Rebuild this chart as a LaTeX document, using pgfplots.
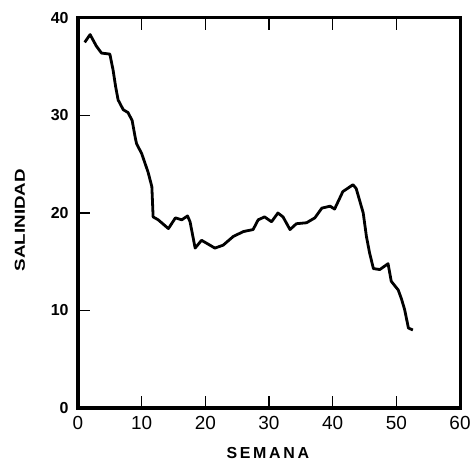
\documentclass[border=0pt]{standalone}
\usepackage{pgfplots}
\pgfplotsset{compat=1.18}
\usepackage{graphicx}
\usepackage{fontspec}
\setmainfont{Liberation Sans}
\begin{document}
\begin{tikzpicture}
\begin{axis}[
  name=ax,
  scale only axis, width=382bp, height=390bp,
  xmin=0, xmax=60, ymin=0, ymax=40,
  axis line style={line width=3bp},
  xtick={0,10,20,30,40,50,60},
  ytick={0,10,20,30,40},
  xtick pos=both, ytick pos=left,
  tick align=inside,
  major tick length=12bp,
  tick style={black, line width=1.2bp},
  /pgf/number format/assume math mode=true,
  x tick label style={font=\fontsize{19}{19}\selectfont, yshift=-5bp},
  y tick label style={font=\bfseries\fontsize{16}{16}\selectfont, xshift=-6bp},
  xlabel={\bfseries\fontsize{16}{16}\selectfont S\,E\,M\,A\,N\,A},
  ylabel={\scalebox{1.3}[1]{\bfseries\fontsize{14.5}{14.5}\selectfont SALINIDAD}},
  ylabel style={at={(axis description cs:-0.152,0.482)}, anchor=center},
  xlabel style={at={(axis description cs:0.497,0)}, anchor=center, yshift=-45bp},
  clip=false,
]
\addplot[black, line width=2.8bp, line join=round] coordinates {
(1.05,37.5) (1.9,38.3) (2.9,37.1) (3.7,36.4) (5.0,36.3) (5.5,34.7)
(5.9,33.0) (6.3,31.6) (7.1,30.6) (7.85,30.3) (8.5,29.5) (9.0,27.7)
(9.2,27.1) (10.0,26.1) (11.0,24.2) (11.6,22.7) (11.8,19.6) (12.6,19.3)
(14.2,18.4) (15.3,19.5) (16.3,19.3) (17.2,19.7) (17.6,19.1) (18.4,16.4)
(19.4,17.2) (20.2,16.9) (21.5,16.4) (22.8,16.7) (24.4,17.6) (26.0,18.1)
(27.5,18.3) (28.3,19.3) (29.3,19.6) (30.4,19.1) (31.4,20.0) (32.2,19.6)
(33.3,18.3) (34.3,18.9) (35.9,19.0) (37.2,19.5) (38.3,20.5) (39.6,20.7)
(40.3,20.4) (41.6,22.2) (43.2,22.9) (43.7,22.5) (44.8,20.0) (45.3,17.6)
(45.8,15.9) (46.4,14.3) (47.4,14.2) (48.7,14.8) (49.2,13.0) (50.3,12.1)
(50.8,11.2) (51.3,10.1) (51.9,8.2) (52.6,8.0)
};
\end{axis}
\path ([xshift=-78bp,yshift=-55bp]ax.south west) rectangle ([xshift=15bp,yshift=18bp]ax.north east);
\end{tikzpicture}
\end{document}
